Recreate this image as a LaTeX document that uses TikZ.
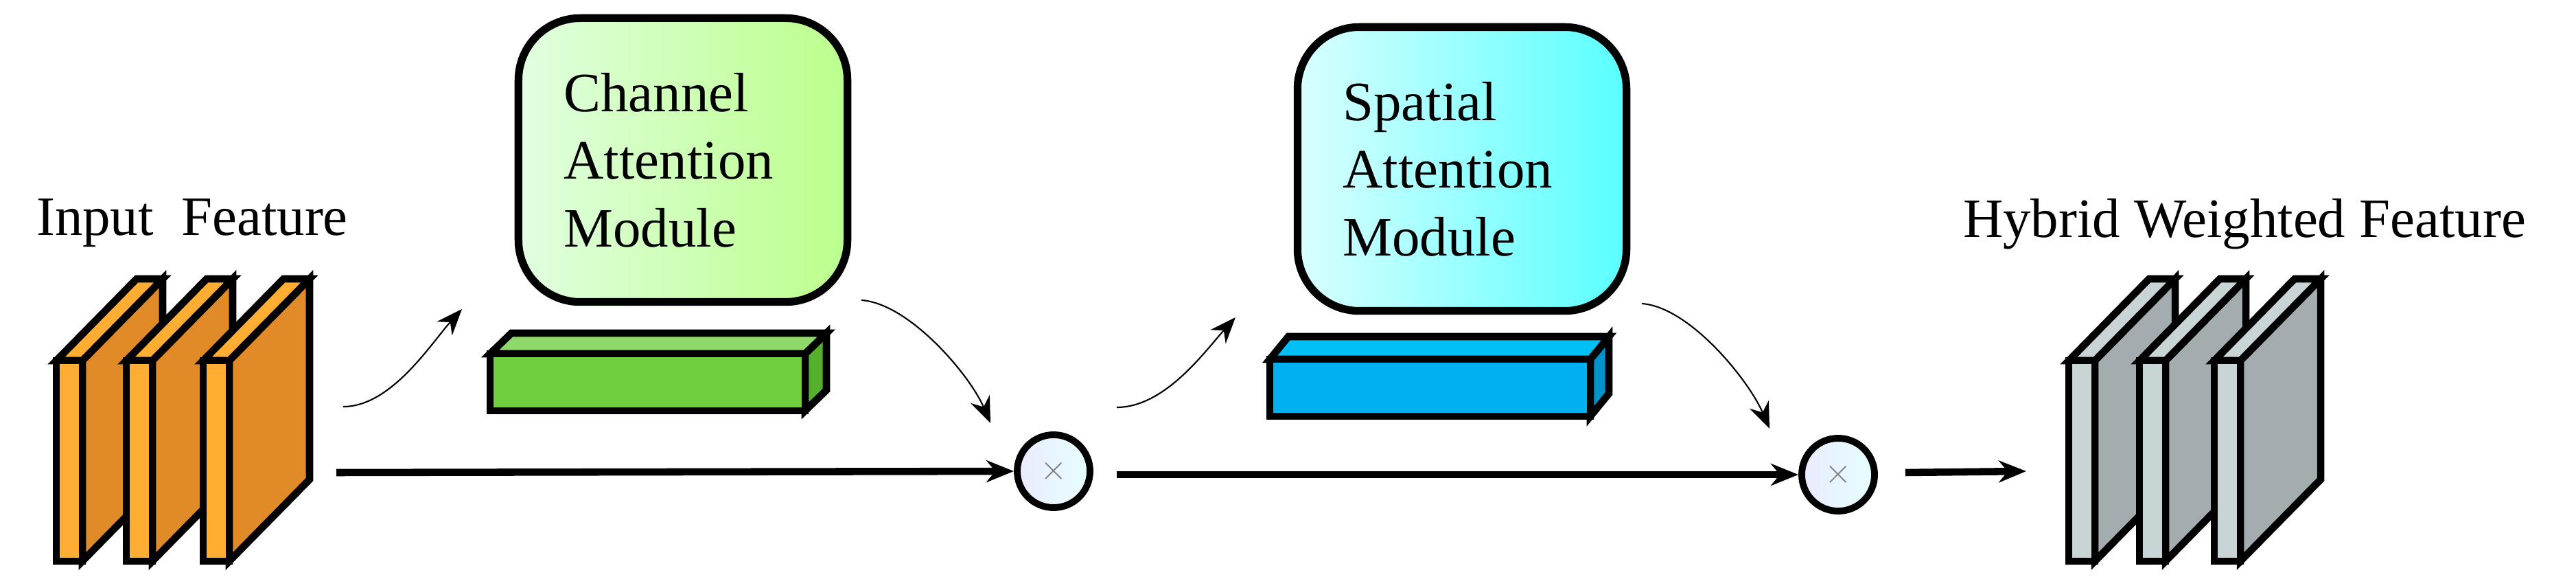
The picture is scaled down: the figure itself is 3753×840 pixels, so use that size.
\documentclass[tikz,border=0pt]{standalone}
\usepackage{fontspec}
\setmainfont{Liberation Serif}
\usetikzlibrary{arrows.meta,positioning}
\definecolor{orlight}{HTML}{FFAD33}
\definecolor{ordark}{HTML}{E08A28}
\definecolor{grlight}{HTML}{C8D4D6}
\definecolor{grdark}{HTML}{A3ADB0}
\definecolor{gnfront}{HTML}{6FCF3F}
\definecolor{gntop}{HTML}{8ED96A}
\definecolor{gnside}{HTML}{55B030}
\definecolor{blfront}{HTML}{00B0F0}
\definecolor{bltop}{HTML}{00BFF5}
\definecolor{blside}{HTML}{0094CC}
\tikzset{
  thick line/.style={line width=3pt, line join=miter},
  module/.style={draw, line width=3.2pt, rounded corners=0.9cm, minimum width=4.79cm,
    minimum height=4.13cm, text width=3.47cm, inner xsep=0.66cm, align=left,
    font=\fontsize{23}{28}\selectfont},
  mul/.style={circle, draw, line width=2.8pt, minimum size=1.06cm, inner sep=0pt,
    left color=blue!8, right color=cyan!10, text=gray, font=\sffamily\Large},
  flow/.style={line width=3pt, -{Stealth[length=0.4cm,width=0.32cm]}},
  hint/.style={line width=0.6pt, -{Stealth[length=0.38cm,width=0.3cm]}},
  label/.style={font=\fontsize{23}{28}\selectfont, anchor=base}
}
\begin{document}
\begin{tikzpicture}[x=0.01cm,y=-0.01cm]
\useasboundingbox (0,0) rectangle (3753,840);
% feature maps
\foreach \x in {82,184,296} {
  \draw [thick line, fill=ordark] (\x+38,525) -- (\x+155,406) -- (\x+155,698) -- (\x+38,817) -- cycle;
  \draw [thick line, fill=orlight] (\x,525) -- (\x+117,406) -- (\x+155,406) -- (\x+38,525) -- cycle;
  \draw [thick line, fill=orlight] (\x,525) rectangle (\x+38,817);
}
\foreach \x in {3014,3117,3226} {
  \draw [thick line, fill=grdark] (\x+38,525) -- (\x+155,406) -- (\x+155,698) -- (\x+38,817) -- cycle;
  \draw [thick line, fill=grlight] (\x,525) -- (\x+117,406) -- (\x+155,406) -- (\x+38,525) -- cycle;
  \draw [thick line, fill=grlight] (\x,525) rectangle (\x+38,817);
}
\node [label] (inlabel) at (280,343) {Input\ \ Feature};
\node [label] (outlabel) at (3270,346) {Hybrid Weighted Feature};
% attention modules
\node [module, left color=green!12, right color=green!45!lime!45] (cam) at (995,233) {Channel\\Attention\\Module};
\node [module, left color=cyan!15, right color=cyan!65] (sam) at (2130,246) {Spatial\\Attention\\Module};
% weight vectors
\draw [thick line, fill=gnside] (1173,515) -- (1204,485) -- (1204,568) -- (1173,598) -- cycle;
\draw [thick line, fill=gntop] (714,515) -- (745,485) -- (1204,485) -- (1173,515) -- cycle;
\draw [thick line, fill=gnfront] (714,515) rectangle (1173,598);
\draw [thick line, fill=blside] (2317,523) -- (2344,490) -- (2344,573) -- (2317,606) -- cycle;
\draw [thick line, fill=bltop] (1850,523) -- (1877,490) -- (2344,490) -- (2317,523) -- cycle;
\draw [thick line, fill=blfront] (1850,523) rectangle (2317,606);
% multiplications
\node [mul] (mul1) at (1535,686) {$\times$};
\node [mul] (mul2) at (2678,691) {$\times$};
\coordinate (in1) at (490,688);
\coordinate (in2) at (1627,691);
\coordinate (out) at (2952,686);
\coordinate (c1s) at (500,592);
\coordinate (c1e) at (673,450);
\coordinate (c2s) at (1255,437);
\coordinate (c2e) at (1443,616);
\coordinate (s1s) at (1627,593);
\coordinate (s1e) at (1800,462);
\coordinate (s2s) at (2392,442);
\coordinate (s2e) at (2578,624);
\draw [flow] (in1) -- (mul1.west);
\draw [flow] (in2) -- (mul2.west);
\draw [flow] (mul2.east) ++(40,-3) -- (out);
\draw [hint] (c1s) .. controls +(70,0) and +(-45,50) .. (c1e);
\draw [hint] (c2s) .. controls +(70,5) and +(-30,-70) .. (c2e);
\draw [hint] (s1s) .. controls +(70,0) and +(-45,50) .. (s1e);
\draw [hint] (s2s) .. controls +(70,5) and +(-30,-70) .. (s2e);
\end{tikzpicture}
\end{document}
